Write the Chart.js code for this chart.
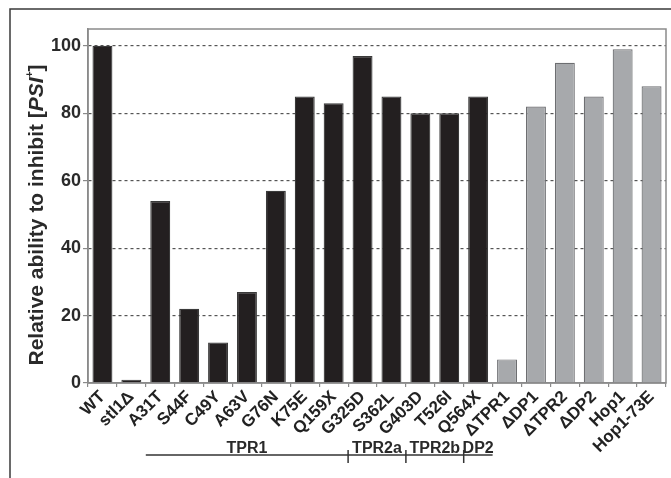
<!DOCTYPE html>
<html>
<head>
<meta charset="utf-8">
<script src="https://cdn.jsdelivr.net/npm/chart.js@4"></script>
<style>
  html, body { margin: 0; padding: 0; background: #fff; }
  #wrap { width: 671px; height: 478px; }
</style>
</head>
<body>
<div id="wrap"><canvas id="myChart" width="671" height="478"></canvas></div>
<script>
const strains = ['WT', 'stl1\u0394', 'A31T', 'S44F', 'C49Y', 'A63V', 'G76N', 'K75E', 'Q159X',
    'G325D', 'S362L', 'G403D', 'T526I', 'Q564X',
    '\u0394TPR1', '\u0394DP1', '\u0394TPR2', '\u0394DP2', 'Hop1', 'Hop1-73E'];
const inhibition = [100, 1, 54, 22, 12, 27, 57, 85, 83, 97, 85, 80, 80, 85, 7, 82, 95, 85, 99, 88];
const yTicks = [0, 20, 40, 60, 80, 100];

// domain brackets under the axis (first and last strain index of each)
const domainNames = ['TPR1', 'TPR2a', 'TPR2b', 'DP2'];
const domainFrom = [2, 9, 11, 13];
const domainTo = [8, 10, 12, 13];

const FONT = "'Liberation Sans', Arial, Helvetica, sans-serif";
const black = '#231f20';
const grey = '#a7a9ac';

const isDeletion = (name) => name.startsWith('\u0394') || name.startsWith('Hop');

const extras = {
    id: 'extras',
    afterDraw(chart) {
        const ctx = chart.ctx;
        const area = chart.chartArea;
        const x = chart.scales.x;

        ctx.save();
        // outer figure frame
        ctx.strokeStyle = '#3a3a3a';
        ctx.lineWidth = 1.5;
        ctx.beginPath();
        ctx.moveTo(10, 478);
        ctx.lineTo(10, 9);
        ctx.lineTo(671, 9);
        ctx.stroke();

        // plot frame
        ctx.strokeStyle = '#8a8a8a';
        ctx.lineWidth = 1.5;
        ctx.strokeRect(area.left, area.top, area.right - area.left, area.bottom - area.top);

        // y title with italic PSI and superscript +
        const parts = [
            { t: 'Relative ability to inhibit [', f: 'bold 21px ' + FONT, dy: 0 },
            { t: 'PSI', f: 'italic bold 21px ' + FONT, dy: 0 },
            { t: '+', f: 'bold 10px ' + FONT, dy: -7 },
            { t: ']', f: 'bold 21px ' + FONT, dy: 0 }
        ];
        let total = 0;
        parts.forEach(p => { ctx.font = p.f; p.w = ctx.measureText(p.t).width; total += p.w; });
        ctx.translate(36, 215);
        ctx.rotate(-Math.PI / 2);
        ctx.fillStyle = '#2a2a2a';
        ctx.textBaseline = 'middle';
        ctx.textAlign = 'left';
        let cx = -total / 2;
        parts.forEach(p => { ctx.font = p.f; ctx.fillText(p.t, cx, p.dy + 1); cx += p.w; });
        ctx.setTransform(1, 0, 0, 1, 0, 0);

        // domain brackets
        const half = (x.getPixelForValue(1) - x.getPixelForValue(0)) / 2;
        const lineY = 455;
        ctx.strokeStyle = '#333';
        ctx.lineWidth = 1.5;
        const start = x.getPixelForValue(domainFrom[0]) - half;
        const end = x.getPixelForValue(domainTo[domainTo.length - 1]) + half;
        ctx.beginPath();
        ctx.moveTo(start, lineY);
        ctx.lineTo(end, lineY);
        ctx.stroke();
        ctx.font = 'bold 16px ' + FONT;
        ctx.fillStyle = '#2a2a2a';
        ctx.textAlign = 'center';
        ctx.textBaseline = 'alphabetic';
        domainNames.forEach((name, i) => {
            const a = x.getPixelForValue(domainFrom[i]) - half;
            const b = x.getPixelForValue(domainTo[i]) + half;
            ctx.fillText(name, (a + b) / 2, lineY - 2);
            if (i > 0) {
                ctx.beginPath();
                ctx.moveTo(a, lineY - 5);
                ctx.lineTo(a, lineY + 8);
                ctx.stroke();
            }
        });
        ctx.restore();
    }
};

const ctx = document.getElementById('myChart').getContext('2d');
const myChart = new Chart(ctx, {
    type: 'bar',
    data: {
        labels: strains,
        datasets: [{
            data: inhibition,
            backgroundColor: strains.map(s => isDeletion(s) ? grey : black),
            borderColor: strains.map(s => isDeletion(s) ? '#6d6e71' : '#3a3a3a'),
            borderWidth: 1.2,
            borderSkipped: 'bottom',
            barPercentage: 0.69,
            categoryPercentage: 1
        }]
    },
    plugins: [extras],
    options: {
        responsive: false,
        animation: false,
        layout: { padding: { top: 29, right: 5, left: 0, bottom: 0 } },
        plugins: { legend: { display: false }, tooltip: { enabled: false } },
        scales: {
            x: {
                grid: {
                    offset: true,
                    drawOnChartArea: false,
                    tickLength: 4,
                    color: '#8a8a8a',
                    lineWidth: 1.2
                },
                border: { display: true, color: '#8a8a8a', width: 1.5 },
                ticks: {
                    autoSkip: false,
                    minRotation: 45,
                    maxRotation: 45,
                    padding: 0,
                    color: '#222',
                    font: { family: FONT, size: 17, weight: 'bold' }
                },
                afterFit: (scale) => { scale.height = 95; }
            },
            y: {
                min: 0,
                max: 105,
                afterBuildTicks: (scale) => { scale.ticks = yTicks.map(v => ({ value: v })); },
                grid: {
                    color: (c) => c.tick && c.tick.value === 0 ? 'rgba(0,0,0,0)' : '#555',
                    lineWidth: 1.2,
                    tickBorderDash: [],
                    tickColor: '#8a8a8a',
                    tickLength: 5
                },
                border: { display: true, color: '#8a8a8a', width: 1.5, dash: [3, 3] },
                ticks: {
                    padding: 2,
                    color: '#2a2a2a',
                    font: { family: FONT, size: 18, weight: 'bold' }
                },
                afterFit: (scale) => { scale.width = 88; }
            }
        }
    }
});
</script>
</body>
</html>
